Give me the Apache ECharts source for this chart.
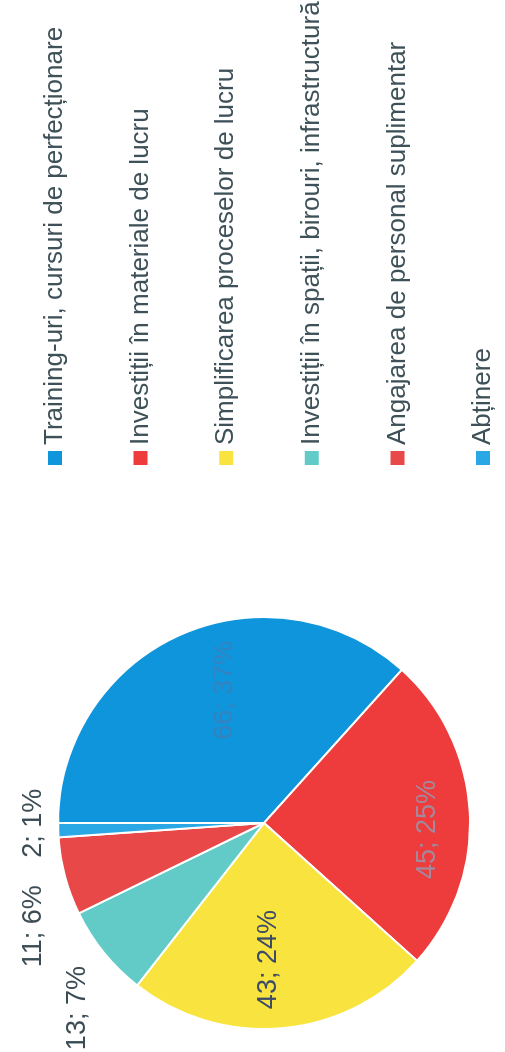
<!DOCTYPE html>
<html>
<head>
<meta charset="utf-8">
<script src="https://cdn.jsdelivr.net/npm/echarts@6/dist/echarts.min.js"></script>
<style>
  html, body { margin: 0; padding: 0; background: #ffffff; overflow: hidden; }
  #wrap {
    position: absolute; left: 0; top: 0;
    width: 1052px; height: 505px;
    transform-origin: 0 0;
    transform: translate(0px, 1052px) rotate(-90deg);
  }
  #chart { width: 1052px; height: 505px; }
</style>
</head>
<body>
<div id="wrap"><div id="chart"></div></div>
<script>
// ---- data ----
const categories = [
  'Training-uri, cursuri de perfecționare',
  'Investiții în materiale de lucru',
  'Simplificarea proceselor de lucru',
  'Investiții în spații, birouri, infrastructură',
  'Angajarea de personal suplimentar',
  'Abținere'
];
const counts = [66, 45, 43, 13, 11, 2];

// ---- styles ----
const sliceColors = ['#0f95dc', '#ee3b3b', '#f9e43f', '#62cbc8', '#e84848', '#2aa8e6'];
const labelPlacement = ['inside', 'inside', 'inside', 'outside', 'outside', 'outside'];
const labelColors = ['#3483c0', '#a4889c', '#3d4a68', '#3b4c55', '#3b4c55', '#3b4c55'];
const labelShift = [[36, 4], [-12, 58], [-31, -5], [31, -15], [30, -17], [77, -10]];

const pieData = categories.map((name, i) => ({
  name: name,
  value: counts[i],
  itemStyle: { color: sliceColors[i] },
  label: { position: labelPlacement[i], color: labelColors[i] }
}));

const chart = echarts.init(document.getElementById('chart'), null, { renderer: 'canvas' });
chart.setOption({
  backgroundColor: '#ffffff',
  animation: false,
  legend: {
    orient: 'vertical',
    left: 585,
    top: 41,
    padding: 0,
    itemWidth: 16,
    itemHeight: 16,
    itemGap: 57.6,
    icon: 'rect',
    selectedMode: false,
    data: categories,
    textStyle: {
      fontFamily: 'Liberation Sans, Arial, sans-serif',
      fontSize: 26,
      lineHeight: 28,
      color: '#3e5158'
    }
  },
  series: [{
    type: 'pie',
    center: [229, 264],
    radius: 206,
    startAngle: 90,
    clockwise: true,
    avoidLabelOverlap: false,
    itemStyle: { borderColor: '#ffffff', borderWidth: 2 },
    label: {
      show: true,
      fontFamily: 'Liberation Sans, Arial, sans-serif',
      fontSize: 27,
      formatter: p => p.value + '; ' + Math.round(p.percent) + '%'
    },
    labelLine: { show: false },
    labelLayout: function (params) {
      const s = labelShift[params.dataIndex];
      return { dx: s[0], dy: s[1] };
    },
    emphasis: { disabled: true },
    data: pieData
  }]
});
</script>
</body>
</html>
